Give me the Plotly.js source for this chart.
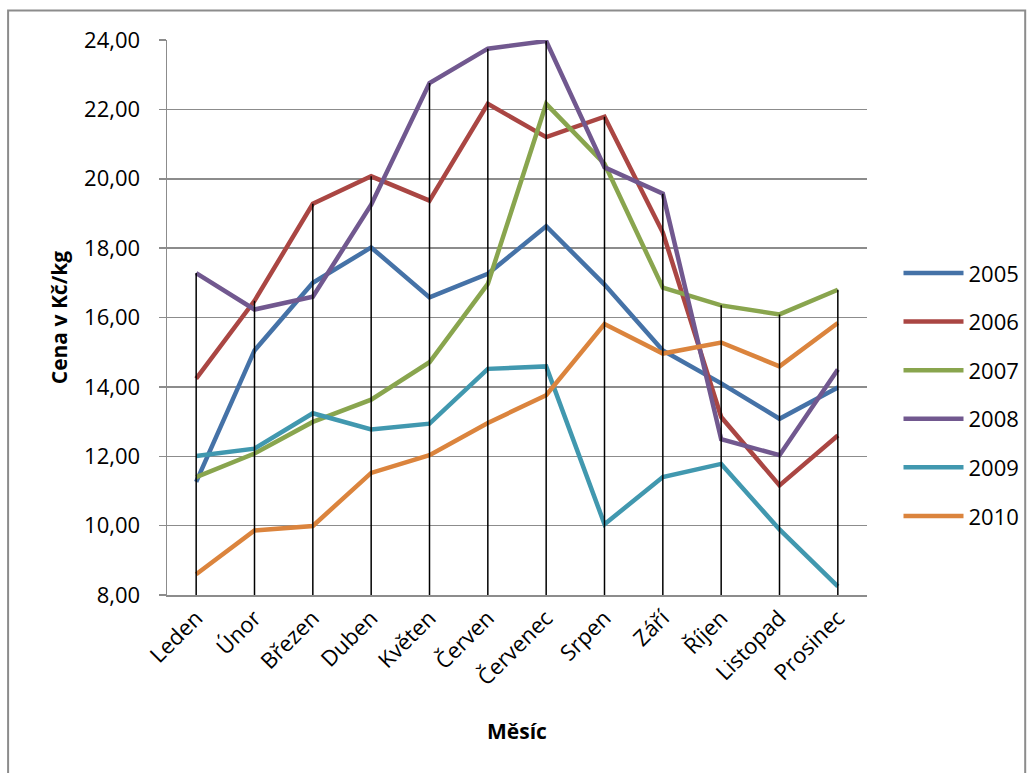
<!DOCTYPE html>
<html>
<head>
<meta charset="utf-8">
<script src="https://cdn.plot.ly/plotly-3.0.1.min.js"></script>
<style>
  html, body { margin: 0; padding: 0; background: #ffffff; }
  #chart { width: 1033px; height: 773px; }
</style>
</head>
<body>
<div id="chart"></div>
<script>
// Monthly prices (Kč/kg), one array per year
const months = ['Leden', 'Únor', 'Březen', 'Duben', 'Květen', 'Červen',
                'Červenec', 'Srpen', 'Září', 'Říjen', 'Listopad', 'Prosinec'];
const years = ['2005', '2006', '2007', '2008', '2009', '2010'];

const price2005 = [11.26, 15.05, 17.00, 18.02, 16.58, 17.26, 18.63, 16.95, 15.05, 14.10, 13.08, 13.98];
const price2006 = [14.24, 16.48, 19.28, 20.07, 19.37, 22.16, 21.20, 21.79, 18.45, 13.13, 11.16, 12.60];
const price2007 = [11.40, 12.08, 12.99, 13.63, 14.71, 16.97, 22.16, 20.43, 16.86, 16.35, 16.09, 16.80];
const price2008 = [17.28, 16.23, 16.60, 19.25, 22.76, 23.75, 23.97, 20.33, 19.57, 12.49, 12.03, 14.50];
const price2009 = [12.01, 12.22, 13.24, 12.77, 12.94, 14.52, 14.59, 10.04, 11.40, 11.78, 9.89, 8.25];
const price2010 = [8.60, 9.86, 9.99, 11.52, 12.03, 12.96, 13.76, 15.81, 14.96, 15.28, 14.59, 15.84];

const yTicks = [8, 10, 12, 14, 16, 18, 20, 22, 24];

const series = [price2005, price2006, price2007, price2008, price2009, price2010];
const lineColors = ['#4572A7', '#AA4643', '#89A54E', '#71588F', '#4198AF', '#DB843D'];

const FONT = '"Open Sans", "Noto Sans", sans-serif';
const yMin = yTicks[0];
const yMax = yTicks[yTicks.length - 1];

const traces = series.map((vals, k) => ({
  type: 'scatter',
  mode: 'lines',
  name: years[k],
  legendgroup: years[k],
  x: months,
  y: vals,
  line: { color: lineColors[k], width: 4.5, shape: 'linear' },
  hoverinfo: 'x+y+name'
}));

// Drop lines: from the highest value of each month down to the category axis
const dropX = [], dropY = [];
months.forEach((m, i) => {
  const top = Math.max(...series.map(s => s[i]));
  dropX.push(m, m, null);
  dropY.push(yMin, top, null);
});
traces.push({
  type: 'scatter',
  mode: 'lines',
  x: dropX,
  y: dropY,
  line: { color: '#000000', width: 1.5 },
  showlegend: false,
  hoverinfo: 'skip'
});

const layout = {
  width: 1033,
  height: 773,
  margin: { l: 167, r: 166, t: 40, b: 178, autoexpand: false },
  paper_bgcolor: '#ffffff',
  plot_bgcolor: '#ffffff',
  separators: ', ',
  font: { family: FONT, color: '#000000', size: 22 },
  showlegend: true,
  legend: {
    x: 1.045, xanchor: 'left',
    y: 0.361, yanchor: 'middle',
    font: { family: FONT, size: 22, color: '#000000' },
    tracegroupgap: 17,
    itemwidth: 60,
    bgcolor: 'rgba(0,0,0,0)'
  },
  xaxis: {
    type: 'category',
    range: [-0.5, months.length - 0.5],
    showgrid: false,
    showline: true,
    linecolor: '#8c8c8c',
    linewidth: 1.5,
    ticks: '',
    tickangle: -45,
    tickfont: { family: FONT, size: 22, color: '#000000' },
    title: { text: 'Měsíc', font: { family: FONT, size: 21, color: '#000000', weight: 'bold' }, standoff: 34 },
    automargin: false,
    zeroline: false,
    fixedrange: true
  },
  yaxis: {
    range: [yMin, yMax],
    tickvals: yTicks,
    tickformat: '.2f',
    showgrid: true,
    gridcolor: '#8c8c8c',
    gridwidth: 1.5,
    showline: true,
    linecolor: '#8c8c8c',
    linewidth: 1.5,
    ticks: 'outside',
    ticklen: 7,
    tickwidth: 1.5,
    tickcolor: '#8c8c8c',
    ticklabelstandoff: 14,
    tickfont: { family: FONT, size: 22, color: '#000000' },
    title: { text: 'Cena v Kč/kg', font: { family: FONT, size: 21, color: '#000000', weight: 'bold' }, standoff: 10 },
    automargin: false,
    zeroline: false,
    fixedrange: true
  },
  shapes: [{
    type: 'rect',
    xref: 'paper', yref: 'paper',
    x0: -0.227, x1: 1.226,
    y0: -0.36, y1: 1.053,
    line: { color: '#8c8c8c', width: 2 },
    fillcolor: 'rgba(0,0,0,0)',
    layer: 'below'
  }]
};

Plotly.newPlot('chart', traces, layout, { displayModeBar: false, staticPlot: true });
</script>
</body>
</html>
